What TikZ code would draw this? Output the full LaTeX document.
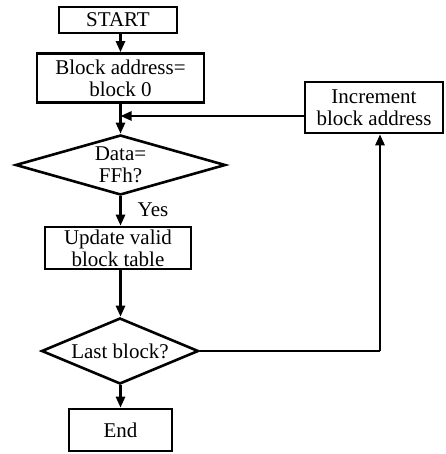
\documentclass[tikz,border=0pt]{standalone}
\usepackage{fontspec}
\setmainfont{Liberation Serif}
\usetikzlibrary{shapes.geometric,arrows.meta}
\begin{document}
\begin{tikzpicture}[x=1pt,y=-1pt,
  every node/.style={font=\fontsize{21}{22}\selectfont, align=center},
  procbox/.style={draw, line width=2.6pt, rectangle, inner sep=0pt},
  decbox/.style={draw, line width=2.6pt, diamond, inner sep=0pt},
  conn/.style={line width=2.6pt, -{Triangle[length=11pt,width=9pt]}},
  plainline/.style={line width=2.6pt}]
\useasboundingbox (0,0) rectangle (445,454);
\node[procbox, minimum width=118pt, minimum height=26pt] (start) at (118,20) {START};
\node[procbox, minimum width=167pt, minimum height=49pt] (init) at (120.5,78) {Block address=\\block 0};
\node[decbox, shape aspect=3.5, minimum width=210pt, minimum height=60pt] (data) at (120.5,165) {Data=\\FFh?};
\node[procbox, minimum width=146pt, minimum height=42pt] (upd) at (118,248) {Update valid\\block table};
\node[decbox, shape aspect=2.4, minimum width=157pt, minimum height=66pt] (last) at (120,351) {Last block?};
\node[procbox, minimum width=103pt, minimum height=42pt] (endn) at (120.5,430) {End};
\node[procbox, minimum width=138pt, minimum height=51pt] (inc) at (374,107.5) {Increment\\block address};
\coordinate (join) at (120.5,116);
\coordinate (corner) at (380,351);
\node (yes) at (153,210) {Yes};
\draw[conn] (start.south -| 120.5,0) -- (init.north -| 120.5,0);
\draw[conn] (init.south -| 120.5,0) -- (data.north);
\draw[conn] (data.south) -- (upd.north -| 120.5,0);
\draw[conn] (upd.south -| 120.5,0) -- (last.north -| 120.5,0);
\draw[conn] (last.south -| 120.5,0) -- (endn.north -| 120.5,0);
\draw[plainline] (last.east) -- (corner);
\draw[conn] (corner) -- (inc.south -| corner);
\draw[conn] (inc.west |- join) -- (join);
\end{tikzpicture}
\end{document}
